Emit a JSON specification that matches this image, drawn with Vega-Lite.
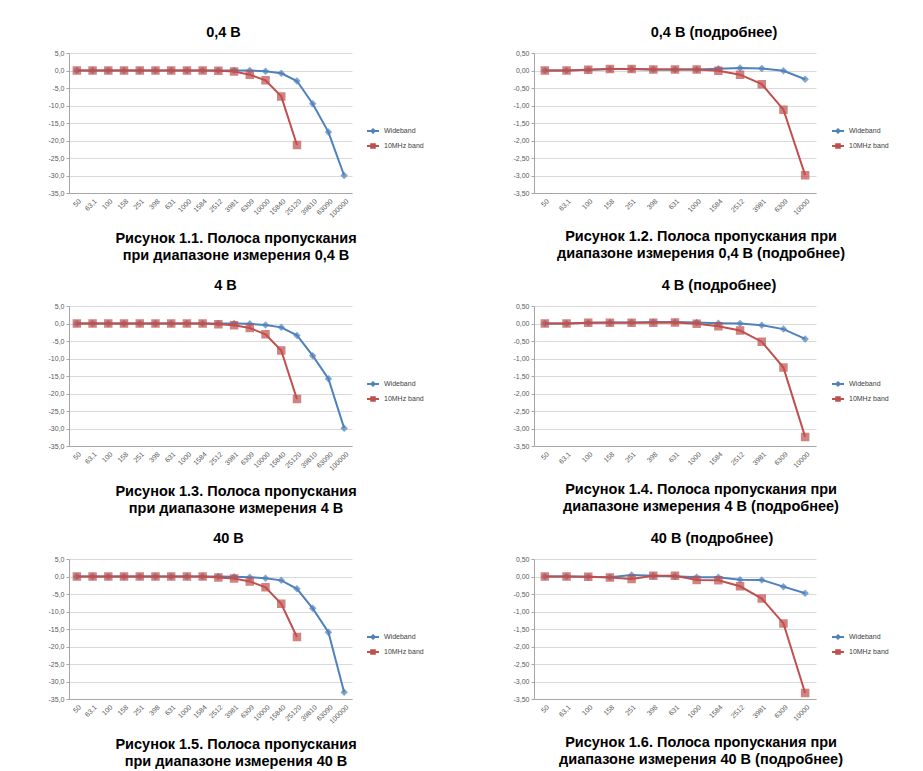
{
  "$schema": "https://vega.github.io/schema/vega-lite/v6.json",
  "padding": {"left": 48, "top": 24, "right": 0, "bottom": 0},
  "background": "white",
  "config": {
    "font": "Liberation Sans",
    "view": {"stroke": null},
    "axis": {"labelFontSize": 7, "labelColor": "#595959", "domainColor": "#a6a6a6", "tickColor": "#a6a6a6", "gridColor": "#d9d9d9", "labelFont": "Liberation Sans"},
    "axisX": {"labelAngle": -45, "ticks": false, "grid": false, "labelPadding": 4},
    "axisY": {"tickSize": 3, "labelPadding": 2},
    "legend": {"labelFontSize": 7, "labelColor": "#404040", "symbolSize": 144, "symbolStrokeWidth": 2, "rowPadding": 2},
    "concat": {"spacing": 14}
  },
  "resolve": {"scale": {"stroke": "independent"}, "legend": {"stroke": "independent"}},
  "datasets": {
    "p1": [
      {"f": "50", "s": "Wideband", "v": 0}, {"f": "63,1", "s": "Wideband", "v": 0}, {"f": "100", "s": "Wideband", "v": 0}, {"f": "158", "s": "Wideband", "v": 0}, {"f": "251", "s": "Wideband", "v": 0}, {"f": "398", "s": "Wideband", "v": 0}, {"f": "631", "s": "Wideband", "v": 0}, {"f": "1000", "s": "Wideband", "v": 0}, {"f": "1584", "s": "Wideband", "v": 0}, {"f": "2512", "s": "Wideband", "v": 0}, {"f": "3981", "s": "Wideband", "v": 0}, {"f": "6309", "s": "Wideband", "v": 0}, {"f": "10000", "s": "Wideband", "v": -0.2}, {"f": "15840", "s": "Wideband", "v": -0.8}, {"f": "25120", "s": "Wideband", "v": -3.0}, {"f": "39810", "s": "Wideband", "v": -9.5}, {"f": "63090", "s": "Wideband", "v": -17.6}, {"f": "100000", "s": "Wideband", "v": -30.0},
      {"f": "50", "s": "10MHz band", "v": 0}, {"f": "63,1", "s": "10MHz band", "v": 0}, {"f": "100", "s": "10MHz band", "v": 0}, {"f": "158", "s": "10MHz band", "v": 0}, {"f": "251", "s": "10MHz band", "v": 0}, {"f": "398", "s": "10MHz band", "v": 0}, {"f": "631", "s": "10MHz band", "v": 0}, {"f": "1000", "s": "10MHz band", "v": 0}, {"f": "1584", "s": "10MHz band", "v": 0}, {"f": "2512", "s": "10MHz band", "v": -0.1}, {"f": "3981", "s": "10MHz band", "v": -0.3}, {"f": "6309", "s": "10MHz band", "v": -1.2}, {"f": "10000", "s": "10MHz band", "v": -2.8}, {"f": "15840", "s": "10MHz band", "v": -7.4}, {"f": "25120", "s": "10MHz band", "v": -21.3}
    ],
    "p3": [
      {"f": "50", "s": "Wideband", "v": 0}, {"f": "63,1", "s": "Wideband", "v": 0}, {"f": "100", "s": "Wideband", "v": 0}, {"f": "158", "s": "Wideband", "v": 0}, {"f": "251", "s": "Wideband", "v": 0}, {"f": "398", "s": "Wideband", "v": 0}, {"f": "631", "s": "Wideband", "v": 0}, {"f": "1000", "s": "Wideband", "v": 0}, {"f": "1584", "s": "Wideband", "v": 0}, {"f": "2512", "s": "Wideband", "v": 0}, {"f": "3981", "s": "Wideband", "v": 0}, {"f": "6309", "s": "Wideband", "v": -0.1}, {"f": "10000", "s": "Wideband", "v": -0.4}, {"f": "15840", "s": "Wideband", "v": -1.1}, {"f": "25120", "s": "Wideband", "v": -3.4}, {"f": "39810", "s": "Wideband", "v": -9.2}, {"f": "63090", "s": "Wideband", "v": -15.8}, {"f": "100000", "s": "Wideband", "v": -29.9},
      {"f": "50", "s": "10MHz band", "v": 0}, {"f": "63,1", "s": "10MHz band", "v": 0}, {"f": "100", "s": "10MHz band", "v": 0}, {"f": "158", "s": "10MHz band", "v": 0}, {"f": "251", "s": "10MHz band", "v": 0}, {"f": "398", "s": "10MHz band", "v": 0}, {"f": "631", "s": "10MHz band", "v": 0}, {"f": "1000", "s": "10MHz band", "v": 0}, {"f": "1584", "s": "10MHz band", "v": 0}, {"f": "2512", "s": "10MHz band", "v": -0.2}, {"f": "3981", "s": "10MHz band", "v": -0.5}, {"f": "6309", "s": "10MHz band", "v": -1.3}, {"f": "10000", "s": "10MHz band", "v": -3.1}, {"f": "15840", "s": "10MHz band", "v": -7.7}, {"f": "25120", "s": "10MHz band", "v": -21.6}
    ],
    "p5": [
      {"f": "50", "s": "Wideband", "v": 0}, {"f": "63,1", "s": "Wideband", "v": 0}, {"f": "100", "s": "Wideband", "v": 0}, {"f": "158", "s": "Wideband", "v": 0}, {"f": "251", "s": "Wideband", "v": 0}, {"f": "398", "s": "Wideband", "v": 0}, {"f": "631", "s": "Wideband", "v": 0}, {"f": "1000", "s": "Wideband", "v": 0}, {"f": "1584", "s": "Wideband", "v": 0}, {"f": "2512", "s": "Wideband", "v": 0}, {"f": "3981", "s": "Wideband", "v": -0.1}, {"f": "6309", "s": "Wideband", "v": -0.2}, {"f": "10000", "s": "Wideband", "v": -0.5}, {"f": "15840", "s": "Wideband", "v": -1.1}, {"f": "25120", "s": "Wideband", "v": -3.5}, {"f": "39810", "s": "Wideband", "v": -9.1}, {"f": "63090", "s": "Wideband", "v": -15.9}, {"f": "100000", "s": "Wideband", "v": -33.1},
      {"f": "50", "s": "10MHz band", "v": 0}, {"f": "63,1", "s": "10MHz band", "v": 0}, {"f": "100", "s": "10MHz band", "v": 0}, {"f": "158", "s": "10MHz band", "v": 0}, {"f": "251", "s": "10MHz band", "v": 0}, {"f": "398", "s": "10MHz band", "v": 0}, {"f": "631", "s": "10MHz band", "v": 0}, {"f": "1000", "s": "10MHz band", "v": 0}, {"f": "1584", "s": "10MHz band", "v": 0}, {"f": "2512", "s": "10MHz band", "v": -0.3}, {"f": "3981", "s": "10MHz band", "v": -0.6}, {"f": "6309", "s": "10MHz band", "v": -1.4}, {"f": "10000", "s": "10MHz band", "v": -3.1}, {"f": "15840", "s": "10MHz band", "v": -7.8}, {"f": "25120", "s": "10MHz band", "v": -17.3}
    ],
    "p2": [
      {"f": "50", "s": "Wideband", "v": 0}, {"f": "63,1", "s": "Wideband", "v": 0}, {"f": "100", "s": "Wideband", "v": 0.02}, {"f": "158", "s": "Wideband", "v": 0.04}, {"f": "251", "s": "Wideband", "v": 0.04}, {"f": "398", "s": "Wideband", "v": 0.03}, {"f": "631", "s": "Wideband", "v": 0.03}, {"f": "1000", "s": "Wideband", "v": 0.03}, {"f": "1584", "s": "Wideband", "v": 0.05}, {"f": "2512", "s": "Wideband", "v": 0.07}, {"f": "3981", "s": "Wideband", "v": 0.06}, {"f": "6309", "s": "Wideband", "v": -0.01}, {"f": "10000", "s": "Wideband", "v": -0.25},
      {"f": "50", "s": "10MHz band", "v": 0}, {"f": "63,1", "s": "10MHz band", "v": 0}, {"f": "100", "s": "10MHz band", "v": 0.02}, {"f": "158", "s": "10MHz band", "v": 0.04}, {"f": "251", "s": "10MHz band", "v": 0.04}, {"f": "398", "s": "10MHz band", "v": 0.03}, {"f": "631", "s": "10MHz band", "v": 0.03}, {"f": "1000", "s": "10MHz band", "v": 0.03}, {"f": "1584", "s": "10MHz band", "v": -0.01}, {"f": "2512", "s": "10MHz band", "v": -0.12}, {"f": "3981", "s": "10MHz band", "v": -0.39}, {"f": "6309", "s": "10MHz band", "v": -1.12}, {"f": "10000", "s": "10MHz band", "v": -2.99}
    ],
    "p4": [
      {"f": "50", "s": "Wideband", "v": 0}, {"f": "63,1", "s": "Wideband", "v": 0}, {"f": "100", "s": "Wideband", "v": 0.02}, {"f": "158", "s": "Wideband", "v": 0.03}, {"f": "251", "s": "Wideband", "v": 0.03}, {"f": "398", "s": "Wideband", "v": 0.04}, {"f": "631", "s": "Wideband", "v": 0.04}, {"f": "1000", "s": "Wideband", "v": 0.03}, {"f": "1584", "s": "Wideband", "v": 0.01}, {"f": "2512", "s": "Wideband", "v": 0.0}, {"f": "3981", "s": "Wideband", "v": -0.05}, {"f": "6309", "s": "Wideband", "v": -0.16}, {"f": "10000", "s": "Wideband", "v": -0.44},
      {"f": "50", "s": "10MHz band", "v": 0}, {"f": "63,1", "s": "10MHz band", "v": 0}, {"f": "100", "s": "10MHz band", "v": 0.02}, {"f": "158", "s": "10MHz band", "v": 0.02}, {"f": "251", "s": "10MHz band", "v": 0.02}, {"f": "398", "s": "10MHz band", "v": 0.02}, {"f": "631", "s": "10MHz band", "v": 0.03}, {"f": "1000", "s": "10MHz band", "v": -0.01}, {"f": "1584", "s": "10MHz band", "v": -0.08}, {"f": "2512", "s": "10MHz band", "v": -0.2}, {"f": "3981", "s": "10MHz band", "v": -0.52}, {"f": "6309", "s": "10MHz band", "v": -1.26}, {"f": "10000", "s": "10MHz band", "v": -3.24}
    ],
    "p6": [
      {"f": "50", "s": "Wideband", "v": 0}, {"f": "63,1", "s": "Wideband", "v": 0}, {"f": "100", "s": "Wideband", "v": -0.01}, {"f": "158", "s": "Wideband", "v": -0.02}, {"f": "251", "s": "Wideband", "v": 0.04}, {"f": "398", "s": "Wideband", "v": 0.02}, {"f": "631", "s": "Wideband", "v": 0.01}, {"f": "1000", "s": "Wideband", "v": -0.02}, {"f": "1584", "s": "Wideband", "v": -0.02}, {"f": "2512", "s": "Wideband", "v": -0.09}, {"f": "3981", "s": "Wideband", "v": -0.1}, {"f": "6309", "s": "Wideband", "v": -0.29}, {"f": "10000", "s": "Wideband", "v": -0.48},
      {"f": "50", "s": "10MHz band", "v": 0}, {"f": "63,1", "s": "10MHz band", "v": 0}, {"f": "100", "s": "10MHz band", "v": -0.01}, {"f": "158", "s": "10MHz band", "v": -0.03}, {"f": "251", "s": "10MHz band", "v": -0.07}, {"f": "398", "s": "10MHz band", "v": 0.02}, {"f": "631", "s": "10MHz band", "v": 0.02}, {"f": "1000", "s": "10MHz band", "v": -0.1}, {"f": "1584", "s": "10MHz band", "v": -0.11}, {"f": "2512", "s": "10MHz band", "v": -0.28}, {"f": "3981", "s": "10MHz band", "v": -0.63}, {"f": "6309", "s": "10MHz band", "v": -1.34}, {"f": "10000", "s": "10MHz band", "v": -3.33}
    ]
  },
  "vconcat": [
    {"resolve": {"scale": {"stroke": "independent"}, "legend": {"stroke": "independent"}}, "spacing": 89, "hconcat": [
      {"resolve": {"scale": {"stroke": "independent"}, "legend": {"stroke": "independent"}}, "vconcat": [{
        "width": 283, "height": 140,
        "data": {"name": "p1"},
        "title": {"text": "0,4 В", "fontSize": 14.5, "fontWeight": "bold", "anchor": "middle", "frame": "group", "dx": 13, "offset": 9, "color": "black"},
        "encoding": {
          "x": {"field": "f", "type": "ordinal", "sort": ["50","63,1","100","158","251","398","631","1000","1584","2512","3981","6309","10000","15840","25120","39810","63090","100000"], "scale": {"type": "point", "padding": 0.5}, "axis": {"title": null}},
          "y": {"field": "v", "type": "quantitative", "scale": {"domain": [-35, 5], "nice": false, "zero": false}, "axis": {"title": null, "values": [5,0,-5,-10,-15,-20,-25,-30,-35], "labelExpr": "replace(replace(format(datum.value, '.1f'), '.', ','), '\u2212', '-')"}},
          "stroke": {"field": "s", "type": "nominal", "scale": {"domain": ["Wideband", "10MHz band"], "range": ["#4F81BD", "#C0504D"]}, "legend": {"title": null, "orient": "none", "legendX": 297, "legendY": 71, "encode": {"symbols": {"update": {"shape": {"signal": "datum.value === 'Wideband' ? 'M-1,0H1M0,-0.28L0.28,0L0,0.28L-0.28,0Z' : 'M-1,0H1M-0.3,-0.3H0.3V0.3H-0.3Z'"}, "fill": {"signal": "datum.value === 'Wideband' ? '#4F81BD' : '#C0504D'"}}}}}}
        },
        "layer": [
          {"transform": [{"filter": "datum.s === 'Wideband'"}], "mark": {"type": "line", "strokeWidth": 2}},
          {"transform": [{"filter": "datum.s === 'Wideband'"}], "mark": {"type": "point", "shape": "diamond", "filled": true, "size": 22, "fill": "#4F81BD"}},
          {"transform": [{"filter": "datum.s === '10MHz band'"}], "mark": {"type": "line", "strokeWidth": 2}},
          {"transform": [{"filter": "datum.s === '10MHz band'"}], "mark": {"type": "square", "filled": true, "size": 42, "fill": "#C0504D"}}
        ]
      }],
      "title": {"text": ["Рисунок 1.1. Полоса пропускания", "при диапазоне измерения 0,4 В"], "orient": "bottom", "anchor": "middle", "frame": "bounds", "fontSize": 14.5, "fontWeight": "bold", "color": "black", "lineHeight": 17, "offset": 14}},
      {"resolve": {"scale": {"stroke": "independent"}, "legend": {"stroke": "independent"}}, "vconcat": [{
        "width": 282, "height": 140,
        "data": {"name": "p2"},
        "title": {"text": "0,4 В (подробнее)", "fontSize": 14.5, "fontWeight": "bold", "anchor": "middle", "frame": "group", "dx": 39, "offset": 9, "color": "black"},
        "encoding": {
          "x": {"field": "f", "type": "ordinal", "sort": ["50","63,1","100","158","251","398","631","1000","1584","2512","3981","6309","10000"], "scale": {"type": "point", "padding": 0.5}, "axis": {"title": null}},
          "y": {"field": "v", "type": "quantitative", "scale": {"domain": [-3.5, 0.5], "nice": false, "zero": false}, "axis": {"title": null, "values": [0.5,0,-0.5,-1,-1.5,-2,-2.5,-3,-3.5], "labelExpr": "replace(replace(format(datum.value, '.2f'), '.', ','), '\u2212', '-')"}},
          "stroke": {"field": "s", "type": "nominal", "scale": {"domain": ["Wideband", "10MHz band"], "range": ["#4F81BD", "#C0504D"]}, "legend": {"title": null, "orient": "none", "legendX": 297, "legendY": 71, "encode": {"symbols": {"update": {"shape": {"signal": "datum.value === 'Wideband' ? 'M-1,0H1M0,-0.28L0.28,0L0,0.28L-0.28,0Z' : 'M-1,0H1M-0.3,-0.3H0.3V0.3H-0.3Z'"}, "fill": {"signal": "datum.value === 'Wideband' ? '#4F81BD' : '#C0504D'"}}}}}}
        },
        "layer": [
          {"transform": [{"filter": "datum.s === 'Wideband'"}], "mark": {"type": "line", "strokeWidth": 2}},
          {"transform": [{"filter": "datum.s === 'Wideband'"}], "mark": {"type": "point", "shape": "diamond", "filled": true, "size": 22, "fill": "#4F81BD"}},
          {"transform": [{"filter": "datum.s === '10MHz band'"}], "mark": {"type": "line", "strokeWidth": 2}},
          {"transform": [{"filter": "datum.s === '10MHz band'"}], "mark": {"type": "square", "filled": true, "size": 42, "fill": "#C0504D"}}
        ]
      }],
      "title": {"text": ["Рисунок 1.2. Полоса пропускания при", "диапазоне измерения 0,4 В (подробнее)"], "orient": "bottom", "anchor": "middle", "frame": "bounds", "fontSize": 14.5, "fontWeight": "bold", "color": "black", "lineHeight": 17, "offset": 14}}
    ]},
    {"resolve": {"scale": {"stroke": "independent"}, "legend": {"stroke": "independent"}}, "spacing": 89, "hconcat": [
      {"resolve": {"scale": {"stroke": "independent"}, "legend": {"stroke": "independent"}}, "vconcat": [{
        "width": 283, "height": 140,
        "data": {"name": "p3"},
        "title": {"text": "4 В", "fontSize": 14.5, "fontWeight": "bold", "anchor": "middle", "frame": "group", "dx": 15, "offset": 9, "color": "black"},
        "encoding": {
          "x": {"field": "f", "type": "ordinal", "sort": ["50","63,1","100","158","251","398","631","1000","1584","2512","3981","6309","10000","15840","25120","39810","63090","100000"], "scale": {"type": "point", "padding": 0.5}, "axis": {"title": null}},
          "y": {"field": "v", "type": "quantitative", "scale": {"domain": [-35, 5], "nice": false, "zero": false}, "axis": {"title": null, "values": [5,0,-5,-10,-15,-20,-25,-30,-35], "labelExpr": "replace(replace(format(datum.value, '.1f'), '.', ','), '\u2212', '-')"}},
          "stroke": {"field": "s", "type": "nominal", "scale": {"domain": ["Wideband", "10MHz band"], "range": ["#4F81BD", "#C0504D"]}, "legend": {"title": null, "orient": "none", "legendX": 297, "legendY": 71, "encode": {"symbols": {"update": {"shape": {"signal": "datum.value === 'Wideband' ? 'M-1,0H1M0,-0.28L0.28,0L0,0.28L-0.28,0Z' : 'M-1,0H1M-0.3,-0.3H0.3V0.3H-0.3Z'"}, "fill": {"signal": "datum.value === 'Wideband' ? '#4F81BD' : '#C0504D'"}}}}}}
        },
        "layer": [
          {"transform": [{"filter": "datum.s === 'Wideband'"}], "mark": {"type": "line", "strokeWidth": 2}},
          {"transform": [{"filter": "datum.s === 'Wideband'"}], "mark": {"type": "point", "shape": "diamond", "filled": true, "size": 22, "fill": "#4F81BD"}},
          {"transform": [{"filter": "datum.s === '10MHz band'"}], "mark": {"type": "line", "strokeWidth": 2}},
          {"transform": [{"filter": "datum.s === '10MHz band'"}], "mark": {"type": "square", "filled": true, "size": 42, "fill": "#C0504D"}}
        ]
      }],
      "title": {"text": ["Рисунок 1.3. Полоса пропускания", "при диапазоне измерения 4 В"], "orient": "bottom", "anchor": "middle", "frame": "bounds", "fontSize": 14.5, "fontWeight": "bold", "color": "black", "lineHeight": 17, "offset": 14}},
      {"resolve": {"scale": {"stroke": "independent"}, "legend": {"stroke": "independent"}}, "vconcat": [{
        "width": 282, "height": 140,
        "data": {"name": "p4"},
        "title": {"text": "4 В (подробнее)", "fontSize": 14.5, "fontWeight": "bold", "anchor": "middle", "frame": "group", "dx": 44, "offset": 9, "color": "black"},
        "encoding": {
          "x": {"field": "f", "type": "ordinal", "sort": ["50","63,1","100","158","251","398","631","1000","1584","2512","3981","6309","10000"], "scale": {"type": "point", "padding": 0.5}, "axis": {"title": null}},
          "y": {"field": "v", "type": "quantitative", "scale": {"domain": [-3.5, 0.5], "nice": false, "zero": false}, "axis": {"title": null, "values": [0.5,0,-0.5,-1,-1.5,-2,-2.5,-3,-3.5], "labelExpr": "replace(replace(format(datum.value, '.2f'), '.', ','), '\u2212', '-')"}},
          "stroke": {"field": "s", "type": "nominal", "scale": {"domain": ["Wideband", "10MHz band"], "range": ["#4F81BD", "#C0504D"]}, "legend": {"title": null, "orient": "none", "legendX": 297, "legendY": 71, "encode": {"symbols": {"update": {"shape": {"signal": "datum.value === 'Wideband' ? 'M-1,0H1M0,-0.28L0.28,0L0,0.28L-0.28,0Z' : 'M-1,0H1M-0.3,-0.3H0.3V0.3H-0.3Z'"}, "fill": {"signal": "datum.value === 'Wideband' ? '#4F81BD' : '#C0504D'"}}}}}}
        },
        "layer": [
          {"transform": [{"filter": "datum.s === 'Wideband'"}], "mark": {"type": "line", "strokeWidth": 2}},
          {"transform": [{"filter": "datum.s === 'Wideband'"}], "mark": {"type": "point", "shape": "diamond", "filled": true, "size": 22, "fill": "#4F81BD"}},
          {"transform": [{"filter": "datum.s === '10MHz band'"}], "mark": {"type": "line", "strokeWidth": 2}},
          {"transform": [{"filter": "datum.s === '10MHz band'"}], "mark": {"type": "square", "filled": true, "size": 42, "fill": "#C0504D"}}
        ]
      }],
      "title": {"text": ["Рисунок 1.4. Полоса пропускания при", "диапазоне измерения 4 В (подробнее)"], "orient": "bottom", "anchor": "middle", "frame": "bounds", "fontSize": 14.5, "fontWeight": "bold", "color": "black", "lineHeight": 17, "offset": 14}}
    ]},
    {"resolve": {"scale": {"stroke": "independent"}, "legend": {"stroke": "independent"}}, "spacing": 89, "hconcat": [
      {"resolve": {"scale": {"stroke": "independent"}, "legend": {"stroke": "independent"}}, "vconcat": [{
        "width": 283, "height": 140,
        "data": {"name": "p5"},
        "title": {"text": "40 В", "fontSize": 14.5, "fontWeight": "bold", "anchor": "middle", "frame": "group", "dx": 18, "offset": 9, "color": "black"},
        "encoding": {
          "x": {"field": "f", "type": "ordinal", "sort": ["50","63,1","100","158","251","398","631","1000","1584","2512","3981","6309","10000","15840","25120","39810","63090","100000"], "scale": {"type": "point", "padding": 0.5}, "axis": {"title": null}},
          "y": {"field": "v", "type": "quantitative", "scale": {"domain": [-35, 5], "nice": false, "zero": false}, "axis": {"title": null, "values": [5,0,-5,-10,-15,-20,-25,-30,-35], "labelExpr": "replace(replace(format(datum.value, '.1f'), '.', ','), '\u2212', '-')"}},
          "stroke": {"field": "s", "type": "nominal", "scale": {"domain": ["Wideband", "10MHz band"], "range": ["#4F81BD", "#C0504D"]}, "legend": {"title": null, "orient": "none", "legendX": 297, "legendY": 71, "encode": {"symbols": {"update": {"shape": {"signal": "datum.value === 'Wideband' ? 'M-1,0H1M0,-0.28L0.28,0L0,0.28L-0.28,0Z' : 'M-1,0H1M-0.3,-0.3H0.3V0.3H-0.3Z'"}, "fill": {"signal": "datum.value === 'Wideband' ? '#4F81BD' : '#C0504D'"}}}}}}
        },
        "layer": [
          {"transform": [{"filter": "datum.s === 'Wideband'"}], "mark": {"type": "line", "strokeWidth": 2}},
          {"transform": [{"filter": "datum.s === 'Wideband'"}], "mark": {"type": "point", "shape": "diamond", "filled": true, "size": 22, "fill": "#4F81BD"}},
          {"transform": [{"filter": "datum.s === '10MHz band'"}], "mark": {"type": "line", "strokeWidth": 2}},
          {"transform": [{"filter": "datum.s === '10MHz band'"}], "mark": {"type": "square", "filled": true, "size": 42, "fill": "#C0504D"}}
        ]
      }],
      "title": {"text": ["Рисунок 1.5. Полоса пропускания", "при диапазоне измерения 40 В"], "orient": "bottom", "anchor": "middle", "frame": "bounds", "fontSize": 14.5, "fontWeight": "bold", "color": "black", "lineHeight": 17, "offset": 14}},
      {"resolve": {"scale": {"stroke": "independent"}, "legend": {"stroke": "independent"}}, "vconcat": [{
        "width": 282, "height": 140,
        "data": {"name": "p6"},
        "title": {"text": "40 В (подробнее)", "fontSize": 14.5, "fontWeight": "bold", "anchor": "middle", "frame": "group", "dx": 37, "offset": 9, "color": "black"},
        "encoding": {
          "x": {"field": "f", "type": "ordinal", "sort": ["50","63,1","100","158","251","398","631","1000","1584","2512","3981","6309","10000"], "scale": {"type": "point", "padding": 0.5}, "axis": {"title": null}},
          "y": {"field": "v", "type": "quantitative", "scale": {"domain": [-3.5, 0.5], "nice": false, "zero": false}, "axis": {"title": null, "values": [0.5,0,-0.5,-1,-1.5,-2,-2.5,-3,-3.5], "labelExpr": "replace(replace(format(datum.value, '.2f'), '.', ','), '\u2212', '-')"}},
          "stroke": {"field": "s", "type": "nominal", "scale": {"domain": ["Wideband", "10MHz band"], "range": ["#4F81BD", "#C0504D"]}, "legend": {"title": null, "orient": "none", "legendX": 297, "legendY": 71, "encode": {"symbols": {"update": {"shape": {"signal": "datum.value === 'Wideband' ? 'M-1,0H1M0,-0.28L0.28,0L0,0.28L-0.28,0Z' : 'M-1,0H1M-0.3,-0.3H0.3V0.3H-0.3Z'"}, "fill": {"signal": "datum.value === 'Wideband' ? '#4F81BD' : '#C0504D'"}}}}}}
        },
        "layer": [
          {"transform": [{"filter": "datum.s === 'Wideband'"}], "mark": {"type": "line", "strokeWidth": 2}},
          {"transform": [{"filter": "datum.s === 'Wideband'"}], "mark": {"type": "point", "shape": "diamond", "filled": true, "size": 22, "fill": "#4F81BD"}},
          {"transform": [{"filter": "datum.s === '10MHz band'"}], "mark": {"type": "line", "strokeWidth": 2}},
          {"transform": [{"filter": "datum.s === '10MHz band'"}], "mark": {"type": "square", "filled": true, "size": 42, "fill": "#C0504D"}}
        ]
      }],
      "title": {"text": ["Рисунок 1.6. Полоса пропускания при", "диапазоне измерения 40 В (подробнее)"], "orient": "bottom", "anchor": "middle", "frame": "bounds", "fontSize": 14.5, "fontWeight": "bold", "color": "black", "lineHeight": 17, "offset": 14}}
    ]}
  ]
}
